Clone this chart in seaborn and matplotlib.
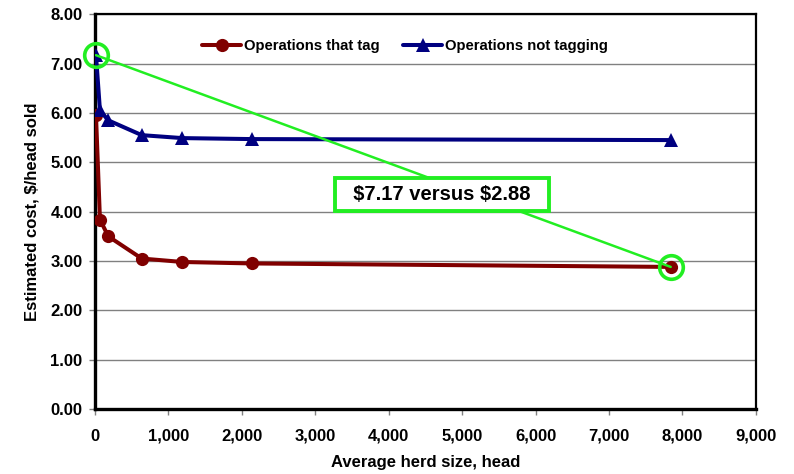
import numpy as np
import pandas as pd
import matplotlib
matplotlib.use('Agg')
import matplotlib.pyplot as plt
import seaborn as sns
from matplotlib.ticker import FuncFormatter

# data
herd_size = [14, 68, 181, 637, 1191, 2142, 7840]
cost_tag = [5.95, 3.84, 3.50, 3.05, 2.98, 2.95, 2.88]
cost_no_tag = [7.17, 6.05, 5.85, 5.55, 5.49, 5.47, 5.45]
series_names = ['Operations that tag', 'Operations not tagging']
note_text = r'\$7.17 versus \$2.88'

sns.set_style('white')
plt.rcParams['font.family'] = ['Liberation Sans', 'DejaVu Sans']
plt.rcParams['font.weight'] = 'bold'
plt.rcParams['text.color'] = 'black'
plt.rcParams['axes.labelcolor'] = 'black'
plt.rcParams['xtick.color'] = 'black'
plt.rcParams['ytick.color'] = 'black'

df = pd.concat([
    pd.DataFrame({'herd': herd_size, 'cost': cost_tag, 'group': series_names[0]}),
    pd.DataFrame({'herd': herd_size, 'cost': cost_no_tag, 'group': series_names[1]}),
])

fig = plt.figure(figsize=(7.94, 4.74), dpi=100)
ax = fig.add_axes([0.1196, 0.137, 0.8324, 0.833])

ax.set_axisbelow(True)
ax.grid(axis='y', color='#808080', lw=1)

sns.lineplot(data=df, x='herd', y='cost', hue='group', style='group',
             palette={series_names[0]: '#800000', series_names[1]: '#000080'},
             markers={series_names[0]: 'o', series_names[1]: '^'},
             dashes=False, lw=2.9, markersize=9.5, markeredgewidth=0,
             ax=ax, sort=False, zorder=3)

# green callout linking the highest and lowest cost
p1 = (herd_size[0], cost_no_tag[0])
p2 = (herd_size[-1], cost_tag[-1])
ax.plot([p1[0], p2[0]], [p1[1], p2[1]], color='#22ee22', lw=1.8, zorder=4)
ax.plot([p1[0], p2[0]], [p1[1], p2[1]], ls='none', marker='o', ms=17,
        mfc='none', mec='#22ee22', mew=2.6, zorder=5, clip_on=False)
ax.text(4720, 4.34, '  ' + note_text + '  ', ha='center', va='center', fontsize=14.5,
        fontweight='bold', zorder=6,
        bbox=dict(boxstyle='square,pad=0.35', fc='white', ec='#22ee22', lw=2.8))

ax.set_xlim(0, 9000)
ax.set_ylim(0, 8)
ax.set_xticks(np.arange(0, 9001, 1000))
ax.set_yticks(np.arange(0, 8.01, 1))
ax.xaxis.set_major_formatter(FuncFormatter(lambda v, p: f'{int(v):,}'))
ax.yaxis.set_major_formatter(FuncFormatter(lambda v, p: f'{v:.2f}'))
ax.tick_params(axis='both', which='major', length=4, width=1, color='#808080',
               direction='out', labelsize=12, bottom=True, left=True, pad=5)
ax.tick_params(axis='x', pad=10)
for lab in ax.get_xticklabels() + ax.get_yticklabels():
    lab.set_fontweight('bold')

for s in ax.spines.values():
    s.set_color('black')
    s.set_linewidth(1.6)
ax.spines['left'].set_linewidth(2.4)
ax.spines['bottom'].set_linewidth(2.4)

ax.set_xlabel('Average herd size, head', fontsize=12, fontweight='bold', labelpad=8)
ax.set_ylabel('Estimated cost, $/head sold', fontsize=12, fontweight='bold', labelpad=8)

leg = ax.legend(loc='center', bbox_to_anchor=(0.469, 0.92), ncol=2,
                frameon=False, fontsize=10.7, handlelength=2.6, columnspacing=1.6,
                handletextpad=0.2)
for t in leg.get_texts():
    t.set_fontweight('bold')

fig.savefig('out.png', dpi=100)
